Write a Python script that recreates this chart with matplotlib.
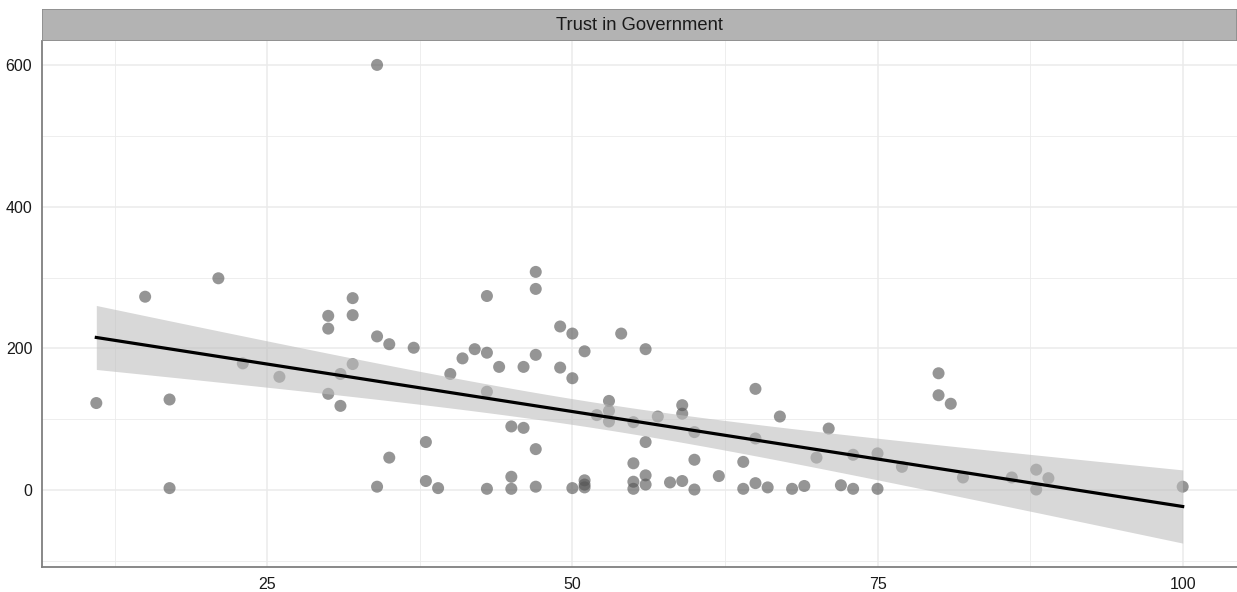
import numpy as np
import matplotlib
matplotlib.use("Agg")
import matplotlib.pyplot as plt
from matplotlib.patches import Rectangle

plt.rcParams['font.family'] = ['Liberation Sans', 'DejaVu Sans']

trust = [11, 15, 21, 17, 17, 23, 26, 30, 30, 30, 31, 31, 32, 32, 32, 34, 34, 35, 35, 37,
         38, 38, 39, 34, 40, 41, 42, 43, 43, 43, 43, 44, 45, 45, 45, 46, 46, 47, 47, 47,
         47, 47, 49, 49, 50, 50, 50, 51, 51, 51, 51, 52, 53, 53, 53, 54, 55, 55, 55, 55,
         56, 56, 56, 56, 57, 58, 59, 59, 59, 60, 60, 60, 62, 64, 64, 65, 65, 65, 66, 67,
         68, 69, 70, 71, 72, 73, 73, 75, 75, 77, 80, 80, 81, 82, 86, 88, 88, 89, 100]
value = [123, 273, 299, 128, 3, 179, 160, 246, 228, 136, 164, 119, 271, 247, 178, 217, 5, 206, 46, 201,
         68, 13, 3, 600, 164, 186, 199, 274, 194, 139, 2, 174, 90, 19, 2, 174, 88, 308, 284, 191,
         58, 5, 231, 173, 221, 158, 3, 196, 14, 8, 4, 106, 126, 112, 97, 221, 96, 38, 12, 2,
         199, 68, 21, 8, 104, 11, 120, 108, 13, 82, 43, 1, 20, 40, 2, 143, 73, 10, 4, 104,
         2, 6, 46, 87, 7, 50, 2, 52, 2, 33, 165, 134, 122, 18, 18, 29, 1, 17, 5]
panel_title = "Trust in Government"
x_ticks = [25, 50, 75, 100]
y_ticks = [0, 200, 400, 600]

x = np.array(trust, float)
y = np.array(value, float)

# linear fit with 95% confidence band
n = len(x)
b1, b0 = np.polyfit(x, y, 1)
xs = np.linspace(x.min(), x.max(), 200)
ys = b0 + b1 * xs
resid = y - (b0 + b1 * x)
s = np.sqrt(np.sum(resid ** 2) / (n - 2))
se = s * np.sqrt(1 / n + (xs - x.mean()) ** 2 / np.sum((x - x.mean()) ** 2))
tval = 1.985
lo, hi = ys - tval * se, ys + tval * se

fig = plt.figure(figsize=(12.37, 5.92), dpi=100)
W, H = 1237, 592
ax = fig.add_axes([42 / W, 25 / H, (1237 - 42) / W, (567 - 41) / H])

grid_c = '#EBEBEB'
for v in [12.5, 37.5, 62.5, 87.5]:
    ax.axvline(v, color=grid_c, lw=0.6, zorder=0)
for v in x_ticks:
    ax.axvline(v, color=grid_c, lw=1.1, zorder=0)
for v in [-100, 100, 300, 500]:
    ax.axhline(v, color=grid_c, lw=0.6, zorder=0)
for v in y_ticks:
    ax.axhline(v, color=grid_c, lw=1.1, zorder=0)

ax.scatter(x, y, s=75, color='#555555', alpha=0.62, edgecolors='none', zorder=2)
ax.fill_between(xs, lo, hi, color='#BEBEBE', alpha=0.6, lw=0, zorder=3)
ax.plot(xs, ys, color='black', lw=2.3, zorder=4)

xr = x.max() - x.min()
ax.set_xlim(x.min() - 0.05 * xr, x.max() + 0.05 * xr)
ymin = min(y.min(), lo.min()); ymax = max(y.max(), hi.max())
yr = ymax - ymin
ax.set_ylim(ymin - 0.05 * yr, ymax + 0.05 * yr)

ax.set_xticks(x_ticks)
ax.set_yticks(y_ticks)
ax.tick_params(length=0, labelsize=11.5, colors='#1A1A1A', pad=7)
for sp in ['top', 'right']:
    ax.spines[sp].set_visible(False)
for sp in ['left', 'bottom']:
    ax.spines[sp].set_color('#7F7F7F')
    ax.spines[sp].set_linewidth(1.3)

# facet strip
strip = fig.add_axes([42 / W, (H - 41) / H, (1237 - 42) / W, 32 / H])
strip.set_xlim(0, 1); strip.set_ylim(0, 1)
strip.add_patch(Rectangle((0, 0), 1, 1, facecolor='#B3B3B3', edgecolor='#8C8C8C', lw=1.2))
strip.text(0.5, 0.5, panel_title, ha='center', va='center', fontsize=13.2, color='#1A1A1A')
strip.axis('off')

fig.savefig('out.png', dpi=100, facecolor='white')
